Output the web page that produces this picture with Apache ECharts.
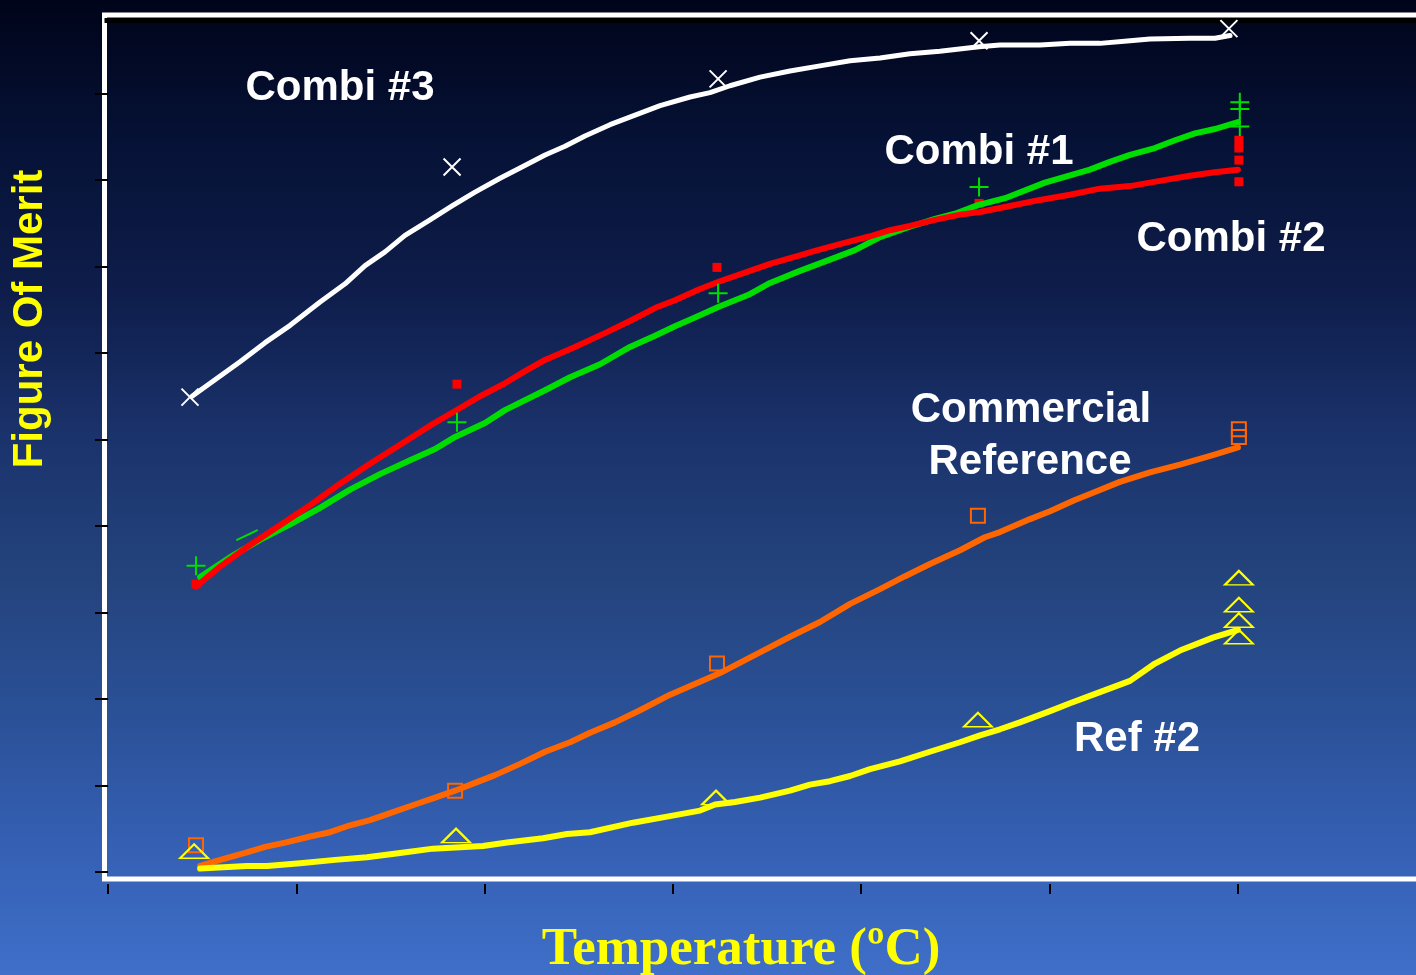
<!DOCTYPE html>
<html>
<head>
<meta charset="utf-8">
<script src="https://cdn.jsdelivr.net/npm/echarts@6/dist/echarts.min.js"></script>
<style>
html,body{margin:0;padding:0;width:1416px;height:975px;overflow:hidden;}
#c{width:1416px;height:975px;}
</style>
</head>
<body>
<div id="c"></div>
<script>
// Axis tick positions (unlabelled in the original)
const xTicks = [0, 1, 2, 3, 4, 5, 6];
const yTicks = [0, 1, 2, 3, 4, 5, 6, 7, 8, 9];
// Dark rule just under the top of the frame
const topRule = 9.85;

// Labels
const xTitle = 'Temperature (ºC)';
const yTitle = 'Figure Of Merit';

// Combi #3 (white)
const combi3Line = [[0.446,5.50],[0.568,5.69],[0.701,5.90],[0.834,6.12],[0.967,6.32],[1.126,6.59],[1.259,6.80],[1.365,7.01],[1.471,7.17],[1.577,7.36],[1.710,7.54],[1.827,7.70],[1.949,7.86],[2.082,8.02],[2.188,8.14],[2.321,8.29],[2.427,8.39],[2.533,8.51],[2.666,8.64],[2.799,8.75],[2.932,8.86],[3.091,8.96],[3.197,9.01],[3.303,9.09],[3.463,9.19],[3.622,9.26],[3.781,9.32],[3.941,9.38],[4.100,9.41],[4.259,9.46],[4.418,9.49],[4.626,9.54],[4.737,9.56],[4.950,9.56],[5.109,9.58],[5.268,9.58],[5.428,9.61],[5.534,9.63],[5.746,9.64],[5.879,9.64],[5.959,9.67]];
const combi3Pts = [[0.435,5.49],[1.827,8.15],[3.240,9.17],[4.626,9.61],[5.953,9.75]];

// Combi #1 (green)
const combi1Line = [[0.489,3.41],[0.648,3.64],[0.807,3.84],[0.967,4.02],[1.126,4.21],[1.285,4.42],[1.444,4.60],[1.604,4.76],[1.737,4.89],[1.843,5.03],[2.002,5.19],[2.108,5.34],[2.321,5.57],[2.454,5.72],[2.613,5.87],[2.772,6.07],[2.905,6.20],[3.011,6.31],[3.117,6.41],[3.250,6.54],[3.399,6.67],[3.516,6.81],[3.675,6.95],[3.834,7.08],[3.967,7.19],[4.100,7.34],[4.259,7.46],[4.392,7.55],[4.498,7.61],[4.620,7.71],[4.764,7.79],[4.976,7.97],[5.215,8.12],[5.321,8.21],[5.428,8.29],[5.560,8.37],[5.667,8.46],[5.773,8.54],[5.879,8.59],[6.001,8.67]];
const combi1Pts = [[0.467,3.54],[1.853,5.20],[3.240,6.69],[4.626,7.92],[6.011,8.90],[6.011,8.82],[6.011,8.62]];
const combi1Dash = [[0.685,3.84],[0.791,3.95]];

// Combi #2 (red)
const combi2Line = [[0.467,3.30],[0.595,3.53],[0.754,3.78],[0.913,4.01],[1.073,4.24],[1.232,4.49],[1.391,4.72],[1.551,4.94],[1.710,5.16],[1.843,5.33],[1.976,5.50],[2.108,5.65],[2.215,5.79],[2.321,5.92],[2.480,6.07],[2.639,6.23],[2.772,6.37],[2.905,6.52],[3.011,6.61],[3.144,6.74],[3.250,6.83],[3.383,6.93],[3.516,7.03],[3.675,7.13],[3.755,7.18],[3.887,7.26],[4.047,7.35],[4.153,7.42],[4.259,7.47],[4.392,7.54],[4.525,7.60],[4.631,7.63],[4.790,7.70],[4.950,7.77],[5.109,7.83],[5.268,7.90],[5.428,7.93],[5.587,7.99],[5.746,8.05],[5.879,8.09],[6.001,8.12]];
const combi2Pts = [[0.467,3.33],[1.853,5.64],[3.234,6.99],[4.626,7.73],[6.006,8.46],[6.006,8.37],[6.006,8.23],[6.006,7.98]];

// Commercial Reference (orange)
const commLine = [[0.489,0.07],[0.595,0.14],[0.728,0.22],[0.834,0.29],[0.940,0.34],[1.073,0.41],[1.179,0.46],[1.285,0.54],[1.391,0.60],[1.498,0.68],[1.630,0.78],[1.737,0.86],[1.843,0.94],[1.949,1.03],[2.055,1.12],[2.188,1.25],[2.321,1.39],[2.454,1.50],[2.560,1.61],[2.692,1.73],[2.825,1.87],[2.985,2.05],[3.144,2.20],[3.250,2.30],[3.383,2.45],[3.516,2.60],[3.622,2.72],[3.781,2.89],[3.941,3.10],[4.100,3.27],[4.233,3.42],[4.365,3.56],[4.525,3.72],[4.657,3.87],[4.737,3.93],[4.897,4.08],[5.003,4.17],[5.135,4.30],[5.215,4.37],[5.374,4.51],[5.534,4.62],[5.693,4.71],[5.868,4.82],[6.001,4.91]];
const commPts = [[0.467,0.31],[1.843,0.94],[3.234,2.41],[4.620,4.12],[6.006,5.12],[6.006,5.03]];

// Ref #2 (yellow)
const ref2Line = [[0.489,0.04],[0.738,0.07],[0.844,0.07],[1.020,0.10],[1.206,0.14],[1.375,0.17],[1.551,0.22],[1.726,0.27],[1.991,0.30],[2.119,0.34],[2.310,0.39],[2.438,0.44],[2.560,0.46],[2.788,0.57],[2.969,0.64],[3.144,0.71],[3.224,0.78],[3.330,0.81],[3.463,0.86],[3.622,0.94],[3.728,1.01],[3.834,1.05],[3.941,1.11],[4.047,1.19],[4.206,1.28],[4.365,1.39],[4.525,1.50],[4.631,1.58],[4.737,1.65],[4.843,1.73],[5.003,1.86],[5.109,1.95],[5.268,2.08],[5.428,2.21],[5.560,2.41],[5.693,2.56],[5.868,2.71],[6.001,2.80]];
const ref2Pts = [[0.457,0.24],[1.848,0.42],[3.229,0.86],[4.620,1.76],[6.006,3.40],[6.006,3.09],[6.006,2.91],[6.006,2.72]];

// Curve labels
const curveLabels = ['Combi #3', 'Combi #1', 'Combi #2', 'Commercial', 'Reference', 'Ref #2'];

const chart = echarts.init(document.getElementById('c'), null, {renderer: 'canvas'});

function lineSeries(data, color, width, z) {
  return {
    type: 'line', data: data, showSymbol: false, symbol: 'none', smooth: false,
    lineStyle: {color: color, width: width, cap: 'round', join: 'round'},
    silent: true, z: z, animation: false
  };
}
function scatterSeries(data, symbol, size, fill, stroke, bw, z) {
  return {
    type: 'scatter', data: data, symbol: symbol, symbolSize: size,
    itemStyle: {color: fill, borderColor: stroke, borderWidth: bw, opacity: 1},
    silent: true, z: z, animation: false
  };
}

const crossPath = 'path://M0,0L10,10M10,0L0,10';
const plusPath = 'path://M5,0L5,10M0,5L10,5';
const clear = 'rgba(0,0,0,0)';
const labelFont = 'bold 42px "Liberation Sans", Arial, sans-serif';

const whiteSeries = lineSeries(combi3Line, '#ffffff', 5, 3);
whiteSeries.markLine = {
  silent: true, symbol: ['none', 'none'], animation: false,
  label: {show: false},
  lineStyle: {color: '#000000', width: 5, type: 'solid'},
  emphasis: {disabled: true},
  data: [{yAxis: topRule}]
};

chart.setOption({
  animation: false,
  backgroundColor: {
    type: 'linear', x: 0, y: 0, x2: 0, y2: 1,
    colorStops: [
      {offset: 0, color: '#00041a'},
      {offset: 0.15, color: '#061236'},
      {offset: 0.3, color: '#0e1d4b'},
      {offset: 0.45, color: '#1b336c'},
      {offset: 0.6, color: '#24447e'},
      {offset: 0.75, color: '#2b529a'},
      {offset: 0.87, color: '#3560b4'},
      {offset: 1, color: '#3f6fc9'}
    ]
  },
  grid: [{
    left: 104.5, top: 15, width: 1330, height: 864, outerBoundsMode: 'none', containLabel: false,
    show: true, borderColor: '#ffffff', borderWidth: 5, backgroundColor: 'transparent'
  }, {
    left: 104.5, top: 874, width: 1330, height: 10, outerBoundsMode: 'none', containLabel: false, show: false
  }],
  xAxis: [{
    type: 'value', gridIndex: 0, min: -0.019, max: 7.045,
    axisLine: {show: false}, axisTick: {show: false},
    axisLabel: {show: false}, splitLine: {show: false}
  }, {
    type: 'value', gridIndex: 1, position: 'top', min: -0.019, max: 7.045,
    axisLine: {show: false},
    axisTick: {show: true, customValues: xTicks, length: 10, inside: true, lineStyle: {color: '#000', width: 2}},
    axisLabel: {show: false}, splitLine: {show: false}
  }],
  yAxis: [{
    type: 'value', gridIndex: 0, min: -0.081, max: 9.908,
    axisLine: {show: false},
    axisTick: {show: true, customValues: yTicks, length: 13, inside: false, lineStyle: {color: '#000', width: 2}},
    axisLabel: {show: false}, splitLine: {show: false}
  }, {
    type: 'value', gridIndex: 1, min: 0, max: 1, show: false
  }],
  series: [
    scatterSeries(combi2Pts, 'rect', 9, '#ff0000', '#ff0000', 0, 2),
    whiteSeries,
    lineSeries(commLine, '#ff6600', 6, 3),
    lineSeries(ref2Line, '#ffff00', 6, 4),
    lineSeries(combi1Line, '#00dd00', 6, 4),
    lineSeries(combi2Line, '#ff0000', 6, 5),
    lineSeries(combi1Dash, '#00dd00', 2, 5),
    scatterSeries(combi3Pts, crossPath, 17, clear, '#ffffff', 2, 6),
    scatterSeries(combi1Pts, plusPath, 19, clear, '#00dd00', 2, 6),
    scatterSeries(commPts, 'rect', 14, clear, '#ff6600', 2, 6),
    scatterSeries(ref2Pts, 'triangle', [28, 14], clear, '#ffff00', 2, 6)
  ],
  graphic: [
    {type: 'text', x: 340, y: 88, z: 100, style: {text: curveLabels[0], fill: '#ffffff', font: labelFont, textAlign: 'center', textVerticalAlign: 'middle'}},
    {type: 'text', x: 979, y: 152, z: 100, style: {text: curveLabels[1], fill: '#ffffff', font: labelFont, textAlign: 'center', textVerticalAlign: 'middle'}},
    {type: 'text', x: 1231, y: 239, z: 100, style: {text: curveLabels[2], fill: '#ffffff', font: labelFont, textAlign: 'center', textVerticalAlign: 'middle'}},
    {type: 'text', x: 1031, y: 410, z: 100, style: {text: curveLabels[3], fill: '#ffffff', font: labelFont, textAlign: 'center', textVerticalAlign: 'middle'}},
    {type: 'text', x: 1030, y: 462, z: 100, style: {text: curveLabels[4], fill: '#ffffff', font: labelFont, textAlign: 'center', textVerticalAlign: 'middle'}},
    {type: 'text', x: 1137, y: 739, z: 100, style: {text: curveLabels[5], fill: '#ffffff', font: labelFont, textAlign: 'center', textVerticalAlign: 'middle'}},
    {type: 'text', x: 30, y: 319, rotation: Math.PI / 2, z: 100, style: {text: yTitle, fill: '#ffff00', font: 'bold 42px "Liberation Sans", Arial, sans-serif', textAlign: 'center', textVerticalAlign: 'middle'}},
    {type: 'text', x: 741, y: 950, z: 100, style: {text: xTitle, fill: '#ffff00', font: 'bold 53px "Liberation Serif", "Times New Roman", serif', textAlign: 'center', textVerticalAlign: 'middle', textShadowColor: '#000000', textShadowOffsetX: 2, textShadowOffsetY: 2, textShadowBlur: 0}}
  ]
});
</script>
</body>
</html>
